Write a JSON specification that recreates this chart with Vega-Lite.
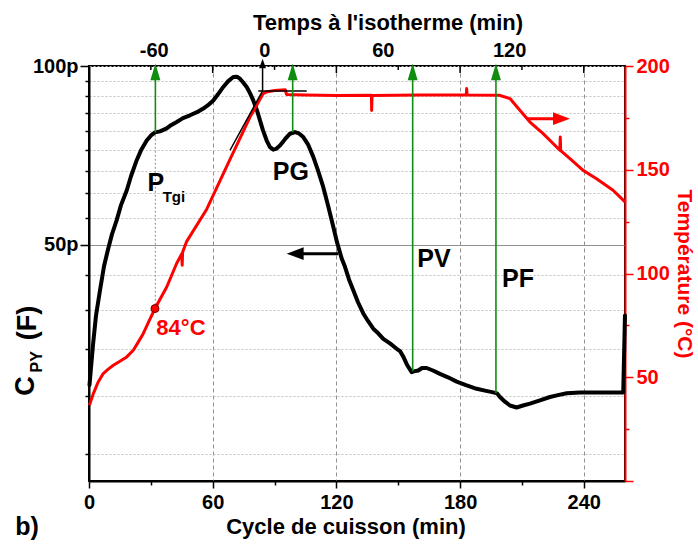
{
  "$schema": "https://vega.github.io/schema/vega-lite/v6.json",
  "width": 536,
  "height": 415,
  "autosize": {"type": "none"},
  "padding": {"left": 89, "top": 66, "right": 73, "bottom": 68},
  "background": "white",
  "config": {
    "view": {"stroke": "black", "strokeWidth": 2},
    "font": "Liberation Sans",
    "axis": {
      "labelFont": "Liberation Sans", "labelFontWeight": "bold", "labelFontSize": 20, "labelColor": "black",
      "titleFont": "Liberation Sans", "titleFontWeight": "bold", "titleFontSize": 22, "titleColor": "black",
      "domainColor": "black", "domainWidth": 2, "tickColor": "black", "tickWidth": 1.5, "labelFlush": false, "labelOverlap": false
    },
    "text": {"font": "Liberation Sans", "fontWeight": "bold"}
  },
  "datasets": {
    "cpy": [
      {"t":0.24,"c":29.0},{"t":1.94,"c":33.9},{"t":3.40,"c":38.0},{"t":5.34,"c":41.9},{"t":7.28,"c":46.0},{"t":9.22,"c":49.1},{"t":11.16,"c":52.1},{"t":13.44,"c":55.0},{"t":15.52,"c":58.3},{"t":18.29,"c":61.7},{"t":20.37,"c":65.2},{"t":23.14,"c":69.4},{"t":25.22,"c":72.1},{"t":27.99,"c":74.9},{"t":30.07,"c":76.4},{"t":32.01,"c":77.3},{"t":34.44,"c":77.6},{"t":37.69,"c":78.5},{"t":39.77,"c":79.5},{"t":42.54,"c":80.5},{"t":45.59,"c":81.7},{"t":48.99,"c":82.6},{"t":52.38,"c":83.6},{"t":55.44,"c":84.8},{"t":57.72,"c":85.9},{"t":60.29,"c":87.5},{"t":62.57,"c":89.6},{"t":65.14,"c":92.2},{"t":67.42,"c":94.2},{"t":69.99,"c":95.8},{"t":71.79,"c":95.9},{"t":73.24,"c":95.2},{"t":74.70,"c":93.9},{"t":76.49,"c":92.2},{"t":78.09,"c":90.0},{"t":79.69,"c":87.5},{"t":81.49,"c":84.2},{"t":82.94,"c":81.0},{"t":84.40,"c":77.9},{"t":86.19,"c":74.9},{"t":87.79,"c":73.0},{"t":89.39,"c":72.3},{"t":90.70,"c":72.5},{"t":92.64,"c":73.5},{"t":95.07,"c":75.3},{"t":97.49,"c":76.9},{"t":99.92,"c":77.4},{"t":101.86,"c":77.0},{"t":103.94,"c":75.9},{"t":106.22,"c":73.8},{"t":108.80,"c":70.3},{"t":111.07,"c":66.7},{"t":113.65,"c":62.5},{"t":115.92,"c":58.3},{"t":118.50,"c":53.6},{"t":120.29,"c":50.5},{"t":122.57,"c":47.4},{"t":124.17,"c":45.9},{"t":126.11,"c":43.7},{"t":128.20,"c":41.9},{"t":130.48,"c":40.0},{"t":133.05,"c":38.3},{"t":135.33,"c":37.2},{"t":137.90,"c":36.1},{"t":140.18,"c":35.5},{"t":142.75,"c":34.7},{"t":146.00,"c":34.1},{"t":149.25,"c":33.4},{"t":150.85,"c":33.1},{"t":152.45,"c":32.4},{"t":154.24,"c":31.4},{"t":156.52,"c":30.5},{"t":157.64,"c":30.6},{"t":159.72,"c":30.7},{"t":161.52,"c":31.0},{"t":163.80,"c":31.0},{"t":166.85,"c":30.7},{"t":170.25,"c":30.3},{"t":174.13,"c":29.9},{"t":178.35,"c":29.4},{"t":182.86,"c":29.0},{"t":188.05,"c":28.6},{"t":192.07,"c":28.4},{"t":196.10,"c":28.2},{"t":197.89,"c":28.1},{"t":199.35,"c":27.7},{"t":201.77,"c":27.2},{"t":204.20,"c":26.8},{"t":207.45,"c":26.6},{"t":210.51,"c":26.8},{"t":213.90,"c":27.0},{"t":218.75,"c":27.35},{"t":223.60,"c":27.7},{"t":227.48,"c":27.9},{"t":231.70,"c":28.1},{"t":238.15,"c":28.2},{"t":244.61,"c":28.2},{"t":252.66,"c":28.2},{"t":259.15,"c":28.2},{"t":259.98,"c":38.0}
    ],
    "temp": [
      {"t":0.2,"T":36.5},{"t":2.1,"T":42.1},{"t":4.4,"T":47.6},{"t":6.9,"T":51.8},{"t":9.2,"T":53.8},{"t":11.8,"T":55.8},{"t":15.0,"T":57.7},{"t":18.3,"T":59.8},{"t":21.5,"T":63.0},{"t":23.8,"T":66.8},{"t":26.3,"T":71.0},{"t":29.1,"T":77.0},{"t":32.0,"T":83.1},{"t":37.7,"T":93.5},{"t":42.5,"T":104.8},{"t":45.0,"T":109.5},{"t":45.2,"T":104.0},{"t":45.4,"T":110.2},{"t":47.4,"T":115.5},{"t":57.1,"T":131.0},{"t":68.4,"T":155.0},{"t":78.1,"T":175.4},{"t":84.5,"T":186.7},{"t":86.5,"T":187.6},{"t":90.0,"T":188.2},{"t":95.2,"T":188.6},{"t":95.8,"T":186.3},{"t":105.0,"T":186.0},{"t":120.0,"T":185.8},{"t":137.0,"T":185.9},{"t":137.1,"T":178.6},{"t":137.3,"T":185.8},{"t":160.0,"T":186.0},{"t":183.0,"T":186.1},{"t":183.2,"T":189.1},{"t":183.4,"T":186.0},{"t":199.0,"T":185.9},{"t":204.2,"T":184.3},{"t":209.0,"T":178.7},{"t":213.9,"T":173.0},{"t":220.3,"T":167.4},{"t":228.4,"T":159.4},{"t":228.6,"T":165.8},{"t":228.8,"T":159.2},{"t":233.3,"T":155.4},{"t":239.7,"T":149.7},{"t":246.2,"T":145.7},{"t":254.2,"T":140.1},{"t":260.0,"T":134.5}
    ],
    "green": [
      {"name":"PTgi","t":32.2,"c":77.3},{"name":"PG","t":98.8,"c":77.4},{"name":"PV","t":157.0,"c":30.6},{"name":"PF","t":197.4,"c":28.1}
    ],
    "topMajor": [{"t":60},{"t":120},{"t":180},{"t":240}],
    "topMinor": [{"t":30},{"t":90},{"t":150},{"t":210}],
    "tgiLine": [{"t":32.2,"c1":39.0,"c2":77.3}],
    "constr": [
      {"seg":"tan","t":68.4,"T":159.4},{"seg":"tan","t":84.2,"T":188.0},
      {"seg":"hor","t":82.1,"T":188.0},{"seg":"hor","t":105.6,"T":188.0},
      {"seg":"vert","t":84.2,"T":188.0},{"seg":"vert","t":84.2,"T":199.0}
    ],
    "isoHead": [{"t":84.2,"T":201.2}],
    "blackArrow": [{"t":100.0,"t2":120.9,"c":48.3}],
    "redArrow": [{"t":229.2,"t2":212.3,"T":174.6}],
    "redDot": [{"t":32.0,"T":83.1}],
    "bigText": [
      {"label":"P","t":32.4,"c":63.6},{"label":"PG","t":97.9,"c":66.3},{"label":"PV","t":167.3,"c":47.3},{"label":"PF","t":208.1,"c":43.7}
    ],
    "smallText": [{"label":"Tgi","t":41.2,"c":60.1}],
    "tempText": [{"label":"84°C","t":44.6,"T":73.6}],
    "yTitleBig": [{"label":"C","t":-30.6,"c":28.92},{"label":"(F)","t":-29.8,"c":36.9}],
    "yTitleSmall": [{"label":"PY","t":-25.4,"c":31.75}],
    "panel": [{"label":"b)","t":-30.1,"c":16.7}]
  },
  "resolve": {"scale": {"y": "independent"}, "axis": {"x": "independent"}},
  "layer": [
    {
      "data": {"name": "topMajor"},
      "mark": {"type": "rule", "color": "black", "strokeWidth": 1.5},
      "encoding": {
        "x": {"field": "t", "type": "quantitative", "scale": {"domain": [0, 260], "nice": false, "zero": false}, "axis": null},
        "y": {"datum": 100, "type": "quantitative", "scale": {"type": "log", "domain": [20, 100], "nice": false}, "axis": null},
        "y2": {"datum": 97.3}
      }
    },
    {
      "data": {"name": "topMinor"},
      "mark": {"type": "rule", "color": "black", "strokeWidth": 1.5},
      "encoding": {
        "x": {"field": "t", "type": "quantitative", "scale": {"domain": [0, 260], "nice": false, "zero": false}, "axis": null},
        "y": {"datum": 100, "type": "quantitative", "scale": {"type": "log", "domain": [20, 100], "nice": false}, "axis": null},
        "y2": {"datum": 98.5}
      }
    },
    {
      "data": {"name": "tgiLine"},
      "mark": {"type": "rule", "color": "#a0a0a0", "strokeWidth": 1.2, "strokeDash": [2, 2]},
      "encoding": {
        "x": {"field": "t", "type": "quantitative", "scale": {"domain": [0, 260], "nice": false, "zero": false}, "axis": null},
        "y": {"field": "c1", "type": "quantitative", "scale": {"type": "log", "domain": [20, 100], "nice": false}, "axis": null},
        "y2": {"field": "c2"}
      }
    },
    {
      "data": {"name": "cpy"},
      "mark": {"type": "line", "color": "black", "strokeWidth": 4, "strokeJoin": "round", "strokeCap": "round"},
      "encoding": {
        "x": {"field": "t", "type": "quantitative", "scale": {"domain": [0, 260], "nice": false, "zero": false},
          "axis": {"orient": "bottom", "values": [0, 30, 60, 90, 120, 150, 180, 210, 240],
            "labelExpr": "datum.value % 60 == 0 ? datum.value : ''",
            "tickSize": {"condition": {"test": "datum.value % 60 == 0", "value": 7}, "value": 4},
            "grid": true, "gridDash": [4, 3], "gridColor": "#909090", "gridWidth": 1,
            "gridOpacity": {"condition": {"test": "datum.value % 60 == 0 && datum.value > 0", "value": 1}, "value": 0},
            "labelPadding": 4, "title": "Cycle de cuisson (min)", "titleX": 256.5, "titlePadding": 4}},
        "y": {"field": "c", "type": "quantitative", "scale": {"type": "log", "domain": [20, 100], "nice": false},
          "axis": {"orient": "left",
            "values": [22.222, 27.778, 33.333, 38.889, 44.444, 50, 55.556, 61.111, 66.667, 72.222, 77.778, 83.333, 88.889, 94.444, 100],
            "labelExpr": "datum.value == 50 || datum.value == 100 ? datum.value + 'p' : ''",
            "tickSize": {"condition": {"test": "datum.value == 50 || datum.value == 100", "value": 9}, "value": 4},
            "grid": true, "gridWidth": 1,
            "gridDash": {"condition": {"test": "datum.value == 50", "value": []}, "value": [2, 2]},
            "gridColor": {"condition": {"test": "datum.value == 50", "value": "#909090"}, "value": "#c0c0c0"},
            "labelPadding": 2, "title": null}}
      }
    },
    {
      "data": {"name": "temp"},
      "mark": {"type": "line", "color": "#ff0000", "strokeWidth": 3, "strokeJoin": "round"},
      "encoding": {
        "x": {"field": "t", "type": "quantitative", "scale": {"domain": [0, 260], "nice": false, "zero": false}, "axis": null},
        "y": {"field": "T", "type": "quantitative", "scale": {"domain": [0, 200], "nice": false, "zero": true},
          "axis": {"orient": "right", "values": [0, 25, 50, 75, 100, 125, 150, 175, 200],
            "labelExpr": "datum.value % 50 == 0 && datum.value > 0 ? datum.value : ''",
            "tickSize": {"condition": {"test": "datum.value % 50 == 0", "value": 8}, "value": 4},
            "labelColor": "#ff0000", "tickColor": "#ff0000", "domainColor": "#ff0000", "titleColor": "#ff0000",
            "grid": false, "labelPadding": 3, "title": "Température (°C)", "titleFontSize": 21, "titlePadding": 4}}
      }
    },
    {
      "data": {"name": "constr"},
      "mark": {"type": "line", "color": "black", "strokeWidth": 1.5},
      "encoding": {
        "x": {"field": "t", "type": "quantitative", "scale": {"domain": [0, 260], "nice": false, "zero": false}, "axis": null},
        "y": {"field": "T", "type": "quantitative", "scale": {"domain": [0, 200], "nice": false}, "axis": null},
        "detail": {"field": "seg"}
      }
    },
    {
      "data": {"name": "isoHead"},
      "mark": {"type": "point", "shape": "M0,-1L0.7,1L-0.7,1Z", "filled": true, "color": "black", "opacity": 1, "size": 94},
      "encoding": {
        "x": {"field": "t", "type": "quantitative", "scale": {"domain": [0, 260], "nice": false, "zero": false}, "axis": null},
        "y": {"field": "T", "type": "quantitative", "scale": {"domain": [0, 200], "nice": false}, "axis": null}
      }
    },
    {
      "data": {"name": "green"},
      "mark": {"type": "rule", "color": "#108c10", "strokeWidth": 1.6},
      "encoding": {
        "x": {"field": "t", "type": "quantitative", "scale": {"domain": [0, 260], "nice": false, "zero": false},
          "axis": {"orient": "top", "values": [31.4, 85.0, 142.5, 203.8],
            "labelExpr": "datum.value < 50 ? '-60' : datum.value < 100 ? '0' : datum.value < 170 ? '60' : '120'",
            "ticks": false, "domain": false, "grid": false, "labelPadding": 6,
            "title": "Temps à l'isotherme (min)", "titleX": 298.5, "titlePadding": 6}},
        "y": {"field": "c", "type": "quantitative", "scale": {"type": "log", "domain": [20, 100], "nice": false}, "axis": null},
        "y2": {"datum": 98}
      }
    },
    {
      "data": {"name": "green"},
      "mark": {"type": "point", "shape": "M0,-1L0.6,1L-0.6,1Z", "filled": true, "color": "#108c10", "opacity": 1, "size": 279},
      "encoding": {
        "x": {"field": "t", "type": "quantitative", "scale": {"domain": [0, 260], "nice": false, "zero": false}, "axis": null},
        "y": {"datum": 97.72, "type": "quantitative", "scale": {"type": "log", "domain": [20, 100], "nice": false}, "axis": null}
      }
    },
    {
      "data": {"name": "blackArrow"},
      "mark": {"type": "rule", "color": "black", "strokeWidth": 3},
      "encoding": {
        "x": {"field": "t", "type": "quantitative", "scale": {"domain": [0, 260], "nice": false, "zero": false}, "axis": null},
        "x2": {"field": "t2"},
        "y": {"field": "c", "type": "quantitative", "scale": {"type": "log", "domain": [20, 100], "nice": false}, "axis": null}
      }
    },
    {
      "data": {"name": "blackArrow"},
      "mark": {"type": "point", "shape": "M-1,0L1,-0.75L1,0.75Z", "filled": true, "color": "black", "opacity": 1, "size": 289},
      "encoding": {
        "x": {"field": "t", "type": "quantitative", "scale": {"domain": [0, 260], "nice": false, "zero": false}, "axis": null},
        "y": {"field": "c", "type": "quantitative", "scale": {"type": "log", "domain": [20, 100], "nice": false}, "axis": null}
      }
    },
    {
      "data": {"name": "redArrow"},
      "mark": {"type": "rule", "color": "#ff0000", "strokeWidth": 3},
      "encoding": {
        "x": {"field": "t", "type": "quantitative", "scale": {"domain": [0, 260], "nice": false, "zero": false}, "axis": null},
        "x2": {"field": "t2"},
        "y": {"field": "T", "type": "quantitative", "scale": {"domain": [0, 200], "nice": false}, "axis": null}
      }
    },
    {
      "data": {"name": "redArrow"},
      "mark": {"type": "point", "shape": "M1,0L-1,-0.75L-1,0.75Z", "filled": true, "color": "#ff0000", "opacity": 1, "size": 289},
      "encoding": {
        "x": {"field": "t", "type": "quantitative", "scale": {"domain": [0, 260], "nice": false, "zero": false}, "axis": null},
        "y": {"field": "T", "type": "quantitative", "scale": {"domain": [0, 200], "nice": false}, "axis": null}
      }
    },
    {
      "data": {"name": "redDot"},
      "mark": {"type": "point", "shape": "circle", "filled": true, "fill": "#ff0000", "stroke": "#700000", "strokeWidth": 1, "opacity": 1, "size": 64},
      "encoding": {
        "x": {"field": "t", "type": "quantitative", "scale": {"domain": [0, 260], "nice": false, "zero": false}, "axis": null},
        "y": {"field": "T", "type": "quantitative", "scale": {"domain": [0, 200], "nice": false}, "axis": null}
      }
    },
    {
      "data": {"name": "bigText"},
      "mark": {"type": "text", "fontSize": 25, "fontWeight": "bold", "color": "black", "align": "center", "baseline": "middle"},
      "encoding": {
        "x": {"field": "t", "type": "quantitative", "scale": {"domain": [0, 260], "nice": false, "zero": false}, "axis": null},
        "y": {"field": "c", "type": "quantitative", "scale": {"type": "log", "domain": [20, 100], "nice": false}, "axis": null},
        "text": {"field": "label"}
      }
    },
    {
      "data": {"name": "smallText"},
      "mark": {"type": "text", "fontSize": 15, "fontWeight": "bold", "color": "black", "align": "center", "baseline": "middle"},
      "encoding": {
        "x": {"field": "t", "type": "quantitative", "scale": {"domain": [0, 260], "nice": false, "zero": false}, "axis": null},
        "y": {"field": "c", "type": "quantitative", "scale": {"type": "log", "domain": [20, 100], "nice": false}, "axis": null},
        "text": {"field": "label"}
      }
    },
    {
      "data": {"name": "tempText"},
      "mark": {"type": "text", "fontSize": 22, "fontWeight": "bold", "color": "#ff0000", "align": "center", "baseline": "middle"},
      "encoding": {
        "x": {"field": "t", "type": "quantitative", "scale": {"domain": [0, 260], "nice": false, "zero": false}, "axis": null},
        "y": {"field": "T", "type": "quantitative", "scale": {"domain": [0, 200], "nice": false}, "axis": null},
        "text": {"field": "label"}
      }
    },
    {
      "data": {"name": "yTitleBig"},
      "mark": {"type": "text", "fontSize": 27, "fontWeight": "bold", "color": "black", "align": "center", "baseline": "middle", "angle": 270},
      "encoding": {
        "x": {"field": "t", "type": "quantitative", "scale": {"domain": [0, 260], "nice": false, "zero": false}, "axis": null},
        "y": {"field": "c", "type": "quantitative", "scale": {"type": "log", "domain": [20, 100], "nice": false}, "axis": null},
        "text": {"field": "label"}
      }
    },
    {
      "data": {"name": "yTitleSmall"},
      "mark": {"type": "text", "fontSize": 16, "fontWeight": "bold", "color": "black", "align": "center", "baseline": "middle", "angle": 270},
      "encoding": {
        "x": {"field": "t", "type": "quantitative", "scale": {"domain": [0, 260], "nice": false, "zero": false}, "axis": null},
        "y": {"field": "c", "type": "quantitative", "scale": {"type": "log", "domain": [20, 100], "nice": false}, "axis": null},
        "text": {"field": "label"}
      }
    },
    {
      "data": {"name": "panel"},
      "mark": {"type": "text", "fontSize": 25, "fontWeight": "bold", "color": "black", "align": "center", "baseline": "middle"},
      "encoding": {
        "x": {"field": "t", "type": "quantitative", "scale": {"domain": [0, 260], "nice": false, "zero": false}, "axis": null},
        "y": {"field": "c", "type": "quantitative", "scale": {"type": "log", "domain": [20, 100], "nice": false}, "axis": null},
        "text": {"field": "label"}
      }
    }
  ]
}
